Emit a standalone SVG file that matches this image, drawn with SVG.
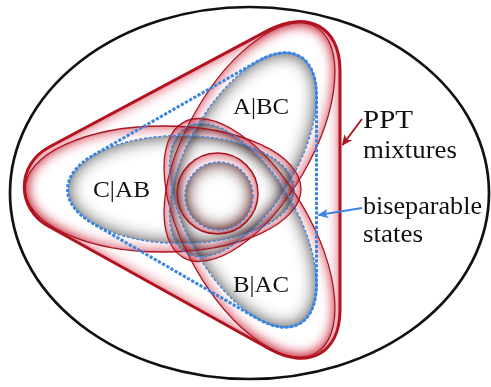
<svg xmlns="http://www.w3.org/2000/svg" width="491" height="387" viewBox="0 0 491 387">
<defs>
<style>
.fillw{fill:#fff;mix-blend-mode:multiply}
.redthin{fill:none;stroke:#a8141f;stroke-width:1.3}
.bluethin{fill:none;stroke:#3d85e0;stroke-width:1.4;stroke-dasharray:3 1.8}
.hull{fill:none;stroke:#3a84e2;stroke-width:3;stroke-dasharray:3.2 1.6}
.lbl{font-family:"Liberation Serif","DejaVu Serif",serif;font-size:24px;fill:#111}
.side{font-family:"Liberation Serif","DejaVu Serif",serif;font-size:25px;fill:#111}
</style>
<filter id="fp" color-interpolation-filters="sRGB">
<feGaussianBlur in="SourceAlpha" stdDeviation="7" result="b"/>
<feComposite in="SourceAlpha" in2="b" operator="arithmetic" k2="1.6" k3="-1.6" result="e"/>
<feFlood flood-color="#e27c8a"/>
<feComposite in2="e" operator="in" result="g"/>
<feMerge><feMergeNode in="SourceGraphic"/><feMergeNode in="g"/></feMerge>
</filter>
<filter id="fg" color-interpolation-filters="sRGB">
<feGaussianBlur in="SourceAlpha" stdDeviation="9" result="b"/>
<feComposite in="SourceAlpha" in2="b" operator="arithmetic" k2="1.5" k3="-1.5" result="e"/>
<feFlood flood-color="#808080"/>
<feComposite in2="e" operator="in" result="g"/>
<feMerge><feMergeNode in="SourceGraphic"/><feMergeNode in="g"/></feMerge>
</filter>
<filter id="fb" color-interpolation-filters="sRGB">
<feGaussianBlur in="SourceAlpha" stdDeviation="9" result="b"/>
<feComposite in="SourceAlpha" in2="b" operator="arithmetic" k2="1.6" k3="-1.6" result="e"/>
<feFlood flood-color="#8a6e6e"/>
<feComposite in2="e" operator="in" result="g"/>
<feMerge><feMergeNode in="SourceGraphic"/><feMergeNode in="g"/></feMerge>
</filter>
<marker id="ar" viewBox="0 0 10 10" refX="9" refY="5" markerWidth="6" markerHeight="6" orient="auto" markerUnits="strokeWidth">
<path d="M0,0.5 L10,5 L0,9.5 L2.5,5 Z" fill="#a8141f"/>
</marker>
<marker id="ab" viewBox="0 0 10 10" refX="9" refY="5" markerWidth="6" markerHeight="6" orient="auto" markerUnits="strokeWidth">
<path d="M0,0.5 L10,5 L0,9.5 L2.5,5 Z" fill="#3d85e0"/>
</marker>
</defs>
<rect width="491" height="387" fill="#fff"/>
<g id="all-states">
<ellipse cx="249.5" cy="193" rx="239.5" ry="186" fill="#fff" stroke="#111" stroke-width="2.7"/>
</g>
<g id="ppt-mixtures">
<path class="fillw" filter="url(#fp)" d="M 49.2 147 L 268 30.4 C 307.6 9.3 340 27 340 70 L 340 310 C 340 353 308.5 370.6 270 349.3 L 48.5 226.3 C 15.9 208.2 16.3 164.6 49.2 147 Z"/>
<path d="M 49.2 147 L 268 30.4 C 307.6 9.3 340 27 340 70 L 340 310 C 340 353 308.5 370.6 270 349.3 L 48.5 226.3 C 15.9 208.2 16.3 164.6 49.2 147 Z" fill="none" stroke="#b3121f" stroke-width="3"/>
</g>
<g id="C-AB">
<ellipse class="fillw" filter="url(#fp)" cx="163" cy="189" rx="138" ry="63"/>
<ellipse class="fillw" filter="url(#fg)" cx="181" cy="189.5" rx="113.5" ry="54"/>
</g>
<g id="A-BC">
<ellipse class="fillw" filter="url(#fp)" cx="0" cy="0" rx="133" ry="62" transform="translate(249.5 142.2) rotate(-60)"/>
<ellipse class="fillw" filter="url(#fg)" cx="0" cy="0" rx="113.5" ry="54" transform="translate(243 154.7) rotate(-60)"/>
</g>
<g id="B-AC">
<ellipse class="fillw" filter="url(#fp)" cx="0" cy="0" rx="133" ry="62" transform="translate(249.5 237.8) rotate(60)"/>
<ellipse class="fillw" filter="url(#fg)" cx="0" cy="0" rx="113.5" ry="54" transform="translate(243 225.3) rotate(60)"/>
</g>
<g id="fully-separable">
<circle class="fillw" filter="url(#fp)" cx="217.5" cy="193.5" r="40.5"/>
<circle class="fillw" filter="url(#fb)" cx="219" cy="196" r="34"/>
</g>
<g id="outlines">
<ellipse class="redthin" cx="163" cy="189" rx="138" ry="63"/>
<ellipse class="redthin" cx="0" cy="0" rx="133" ry="62" transform="translate(249.5 142.2) rotate(-60)"/>
<ellipse class="redthin" cx="0" cy="0" rx="133" ry="62" transform="translate(249.5 237.8) rotate(60)"/>
<ellipse class="bluethin" cx="181" cy="189.5" rx="113.5" ry="54"/>
<ellipse class="bluethin" cx="0" cy="0" rx="113.5" ry="54" transform="translate(243 154.7) rotate(-60)"/>
<ellipse class="bluethin" cx="0" cy="0" rx="113.5" ry="54" transform="translate(243 225.3) rotate(60)"/>
<circle cx="217.5" cy="193.5" r="40.5" fill="none" stroke="#a8141f" stroke-width="1.5"/>
<circle class="bluethin" cx="219" cy="196" r="34"/>
</g>
<g id="biseparable">
<path class="hull" d="M 93.4 155.2 L 257.1 61.6 A 113.5 54 -60 0 1 316.5 96 L 316.5 284 A 113.5 54 60 0 1 257.1 318.4 L 93.4 223.8 A 113.5 54 0 0 1 93.4 155.2 Z"/>
</g>
<g id="labels">
<text class="lbl" x="233" y="114" textLength="56" lengthAdjust="spacingAndGlyphs">A|BC</text>
<text class="lbl" x="93" y="197" textLength="57" lengthAdjust="spacingAndGlyphs">C|AB</text>
<text class="lbl" x="233" y="292" textLength="56" lengthAdjust="spacingAndGlyphs">B|AC</text>
<text class="side" x="363" y="128" textLength="50" lengthAdjust="spacingAndGlyphs">PPT</text>
<text class="side" x="363" y="158" textLength="94" lengthAdjust="spacingAndGlyphs">mixtures</text>
<text class="side" x="363" y="214" textLength="119" lengthAdjust="spacingAndGlyphs">biseparable</text>
<text class="side" x="363" y="242" textLength="60" lengthAdjust="spacingAndGlyphs">states</text>
</g>
<g id="connectors">
<line x1="362" y1="119" x2="342.5" y2="145" stroke="#a8141f" stroke-width="1.8" marker-end="url(#ar)"/>
<line x1="362" y1="208" x2="318.5" y2="215" stroke="#3d85e0" stroke-width="1.8" marker-end="url(#ab)"/>
</g>
</svg>
